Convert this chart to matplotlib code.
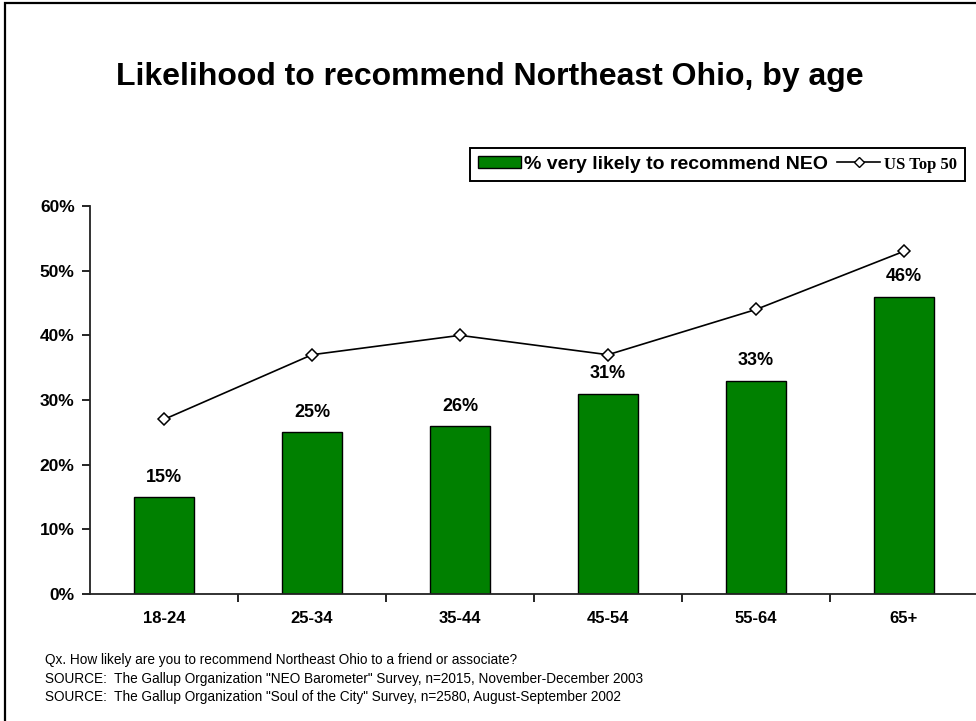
import matplotlib
matplotlib.use("Agg")
import matplotlib.pyplot as plt
from matplotlib.patches import Rectangle
from matplotlib.lines import Line2D
from matplotlib.patches import Patch

age_groups = ["18-24", "25-34", "35-44", "45-54", "55-64", "65+"]
neo_very_likely = [15, 25, 26, 31, 33, 46]
us_top50 = [27, 37, 40, 37, 44, 53]
y_ticks = [0, 10, 20, 30, 40, 50, 60]

footnotes = [
    "Qx. How likely are you to recommend Northeast Ohio to a friend or associate?",
    "SOURCE:  The Gallup Organization \"NEO Barometer\" Survey, n=2015, November-December 2003",
    "SOURCE:  The Gallup Organization \"Soul of the City\" Survey, n=2580, August-September 2002",
]

W, H = 976, 721
fig = plt.figure(figsize=(W / 100, H / 100), dpi=100)
fig.patch.set_facecolor("white")

# outer frame of the slide
fig.add_artist(Rectangle((5 / W, -0.05), 1.1, 1 - 3 / H + 0.05, transform=fig.transFigure,
                         fill=False, edgecolor="black", linewidth=1.6))

ax = fig.add_axes([90 / W, 1 - 594 / H, (978 - 90) / W, (594 - 206) / H])
x = list(range(len(age_groups)))

ax.bar(x, neo_very_likely, width=0.41, color="#008000", edgecolor="black",
       linewidth=1.0, zorder=2)
ax.plot(x, us_top50, color="black", linewidth=1.2, marker="D", markersize=6,
        markerfacecolor="white", markeredgecolor="black", markeredgewidth=1.1, zorder=3)

for xi, v in zip(x, neo_very_likely):
    ax.annotate(f"{v}%", (xi, v), xytext=(0, 8), textcoords="offset points",
                ha="center", va="bottom", fontsize=13, fontweight="bold",
                family="Liberation Sans")

ax.set_xlim(-0.5, len(age_groups) - 0.5)
ax.set_ylim(0, 60)
ax.set_yticks(y_ticks)
ax.set_yticklabels([f"{t}%" for t in y_ticks], fontsize=12.5, fontweight="bold",
                   family="Liberation Sans")
ax.set_xticks([i + 0.5 for i in x[:-1]])
ax.set_xticklabels([])
ax.set_xticks(x, minor=True)
ax.set_xticklabels(age_groups, minor=True, fontsize=12, fontweight="bold",
                   family="Liberation Sans")
ax.tick_params(axis="x", which="major", direction="out", length=6, width=1.2)
ax.tick_params(axis="x", which="minor", length=0, pad=12)
ax.tick_params(axis="y", direction="out", length=6, width=1.2, pad=5)
for s in ["top", "right"]:
    ax.spines[s].set_visible(False)
for s in ["left", "bottom"]:
    ax.spines[s].set_linewidth(1.3)
    ax.spines[s].set_color("#222222")

fig.text(490 / W, 1 - 77 / H, "Likelihood to recommend Northeast Ohio, by age",
         ha="center", va="center", fontsize=23, fontweight="bold", family="Liberation Sans")

handles = [
    Patch(facecolor="#008000", edgecolor="black", linewidth=1.0),
    Line2D([0], [0], color="black", linewidth=1.2, marker="D", markersize=5,
           markerfacecolor="white", markeredgecolor="black"),
]
leg = fig.legend(handles, ["% very likely to recommend NEO", "US Top 50"],
                 loc="upper left", bbox_to_anchor=(470 / W, 1 - 148 / H), ncol=2,
                 frameon=True, fancybox=False, edgecolor="black", framealpha=1,
                 prop={"family": "Liberation Sans", "weight": "bold", "size": 14},
                 handlelength=2.2, handleheight=0.6, handletextpad=0.2, columnspacing=0.45,
                 borderpad=0.4, borderaxespad=0)
leg.get_frame().set_linewidth(1.4)
leg.get_texts()[1].set_fontfamily("Liberation Serif")
leg.get_texts()[1].set_fontsize(12)

for i, line in enumerate(footnotes):
    fig.text(45 / W, 1 - (660 + 18.5 * i) / H, line, ha="left", va="center",
             fontsize=9.8, family="Liberation Sans")

fig.savefig("out.png", dpi=100, facecolor="white")
